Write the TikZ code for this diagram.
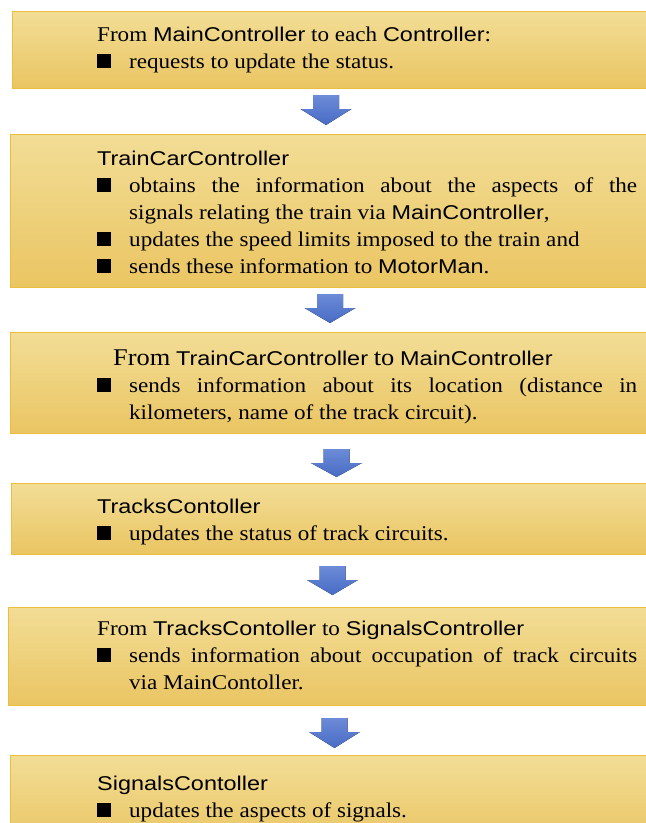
\documentclass[tikz,border=0pt]{standalone}
\usepackage{fontspec}
\setmainfont{Liberation Serif}[FakeStretch=1.1]
\newfontfamily\arfont{Liberation Sans}[Scale=0.95,FakeStretch=1.175]
\usetikzlibrary{calc}
\definecolor{boxtop}{RGB}{242,221,150}
\definecolor{boxbot}{RGB}{234,197,98}
\definecolor{boxline}{RGB}{236,190,62}
\definecolor{arrtop}{RGB}{108,139,216}
\definecolor{arrbot}{RGB}{72,108,196}
\newcommand{\cls}[1]{{\arfont #1}}
\newcommand{\bitem}[1]{\par\hangindent=32pt\hangafter=1\noindent\makebox[32pt][l]{\rule{14pt}{14pt}}#1\par}
\newcommand{\tblock}[1]{\vtop{\hsize=540pt\parindent=0pt\tolerance=10000\hbadness=10000\fontsize{21}{27}\selectfont #1}}
\newcommand{\barrow}[3]{%
  \fill[arrowshade] (#1-13,#2) -- (#1+13,#2) -- (#1+13,#2+14) -- (#1+25.5,#2+14)
    -- (#1,#3) -- (#1-25.5,#2+14) -- (#1-13,#2+14) -- cycle;}
\tikzset{
  flowbox/.style={draw=boxline, line width=1.2pt, top color=boxtop, bottom color=boxbot,
    anchor=north west, inner sep=0pt, minimum width=660pt},
  txt/.style={anchor=base west, inner sep=0pt},
  arrowshade/.style={top color=arrtop, bottom color=arrbot}
}
\begin{document}
\begin{tikzpicture}[x=1pt,y=-1pt]
\useasboundingbox (0,0) rectangle (646,823);
\clip (0,0) rectangle (646,823);
% boxes
\node[flowbox, minimum height=77pt]  (b1) at (12,11) {};
\node[flowbox, minimum height=153pt] (b2) at (10,134) {};
\node[flowbox, minimum height=101pt] (b3) at (10,332) {};
\node[flowbox, minimum height=71pt]  (b4) at (11,483) {};
\node[flowbox, minimum height=98pt]  (b5) at (8,607) {};
\node[flowbox, minimum height=90pt]  (b6) at (10,755) {};
% block arrows
\barrow{326}{95}{125}
\barrow{330}{294}{323}
\barrow{336.5}{449}{477}
\barrow{332.5}{566}{595}
\barrow{334.5}{718}{748}
% texts
\node[txt] (t1) at (97,41) {\tblock{\noindent From \cls{MainController} to each \cls{Controller}:\par
  \bitem{requests to update the status.}}};
\node[txt] (t2) at (97,165) {\tblock{\noindent\cls{TrainCarController}\par
  \bitem{obtains the information about the aspects of the\linebreak signals relating the train via \cls{MainController},}
  \bitem{updates the speed limits imposed to the train and}
  \bitem{sends these information to \cls{MotorMan}.}}};
\node[txt] (t3) at (97,365) {\tblock{\noindent\hspace*{16pt}{\fontsize{24}{27}\selectfont From} \cls{TrainCarController} {\fontsize{24}{27}\selectfont to} \cls{MainController}\par
  \bitem{sends information about its location (distance in\linebreak kilometers, name of the track circuit).}}};
\node[txt] (t4) at (97,513) {\tblock{\noindent\cls{TracksContoller}\par
  \bitem{updates the status of track circuits.}}};
\node[txt] (t5) at (97,635) {\tblock{\noindent From \cls{TracksContoller} to \cls{SignalsController}\par
  \bitem{sends information about occupation of track circuits\linebreak via MainContoller.}}};
\node[txt] (t6) at (97,790) {\tblock{\noindent\cls{SignalsContoller}\par
  \bitem{updates the aspects of signals.}}};
\end{tikzpicture}
\end{document}
